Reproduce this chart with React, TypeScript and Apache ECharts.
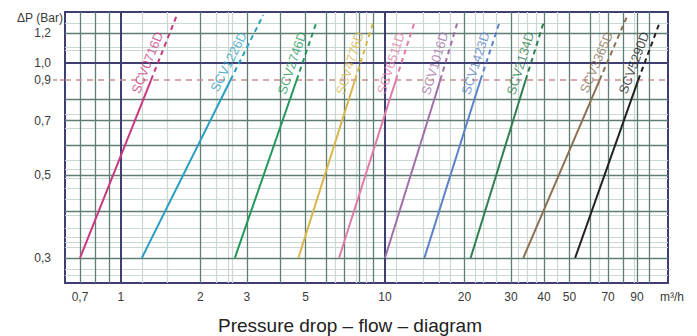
import React, { useEffect, useRef } from "react";
import * as echarts from "echarts";

// ---- data ----
const valveNames = ["SCV0716D", "SCV1226D", "SCV2746D", "SCV4776D", "SCV6511D", "SCV1016D", "SCV1423D", "SCV2134D", "SCV3365D", "SCV5290D"];
const valveColors = ["#c8387f", "#2b9fc2", "#23975a", "#d8b64a", "#e27aa9", "#a26fa8", "#5b82c9", "#2f7f52", "#8b7152", "#222222"];
const flowAtMin = [0.7, 1.2, 2.7, 4.7, 6.7, 10, 14.1, 21.1, 33.4, 52.5]; // m³/h at 0.3 bar
const flowAtRated = [1.3, 2.6, 4.63, 7.7, 11.0, 16.2, 23.0, 34.1, 65, 91]; // m³/h at 0.9 bar
const flowAtTop = [1.63, 3.46, 5.53, 9.07, 13.0, 18.9, 27.3, 40.1, 83, 110]; // end of dashed part
const dpTop = [1.345, 1.345, 1.3, 1.3, 1.3, 1.3, 1.3, 1.3, 1.345, 1.29];
const dpMin = 0.3;
const dpRated = 0.9;

const xTickValues = [0.7, 1, 2, 3, 5, 10, 20, 30, 40, 50, 70, 90];
const yTickValues = [0.3, 0.5, 0.7, 0.9, 1.0, 1.2];

const xMajorLines = [1, 10];
const xMinorLines = [0.7, 0.8, 0.9, 2, 3, 4, 5, 6, 7, 8, 9, 20, 30, 40, 50, 60, 70, 80, 90, 100];
const xFaintLines = [1.2, 1.5, 2.3, 2.55, 2.65, 6.5, 7.8, 8.5, 11, 14, 16, 17.6, 22, 23.5, 26.5, 32, 34.5, 37.5, 45, 65, 88];
const yMajorLines = [1.0];
const yMinorLines = [0.3, 0.4, 0.5, 0.6, 0.7, 0.8, 1.2];
const yFaintLines = [1.28, 1.1, 1.08, 0.73, 0.67, 0.55, 0.52, 0.49, 0.46, 0.43, 0.39, 0.36, 0.34, 0.33, 0.315, 0.28, 0.267];

const X_MIN = 0.614, X_MAX = 118, Y_MIN = 0.257, Y_MAX = 1.37;

const NAVY = "#3e3e70";
const DARK = "#5f7d73";
const FAINT = "#cbd8cf";
const FONT = (s: number) => `${s}px "Liberation Sans", Arial, sans-serif`;

const fmtX = (v: number) => (v < 1 ? String(v).replace(".", ",") : String(v));
const fmtY = (v: number) => v.toFixed(1).replace(".", ",");

function hexA(hex: string, a: number) {
  const n = parseInt(hex.slice(1), 16);
  return `rgba(${(n >> 16) & 255},${(n >> 8) & 255},${n & 255},${a})`;
}

export default function App() {
  const ref = useRef<HTMLDivElement>(null);
  useEffect(() => {
    const el = ref.current!;
    const chart = echarts.init(el, null, { renderer: "svg" });

    const mk = (vals: number[], axis: string, color: string, width: number) =>
      vals.map((v) => ({ [axis]: v, lineStyle: { color, width, type: "solid" } }));

    const series: any[] = [];
    series.push({
      type: "line",
      name: "gridlines",
      data: [[1, 1]],
      symbol: "none",
      lineStyle: { opacity: 0 },
      silent: true,
      z: 1,
      markLine: {
        z: 1,
        silent: true,
        symbol: ["none", "none"],
        label: { show: false },
        emphasis: { disabled: true },
        data: [
          ...mk(xFaintLines, "xAxis", FAINT, 1.2),
          ...mk(yFaintLines, "yAxis", FAINT, 1.2),
          ...mk(yMinorLines, "yAxis", DARK, 1.3),
          ...mk(xMinorLines, "xAxis", DARK, 1.3),
          ...mk(xMajorLines, "xAxis", NAVY, 2),
          ...mk(yMajorLines, "yAxis", NAVY, 2),
        ],
      },
    });
    series.push({
      type: "line",
      name: "rated",
      data: [[X_MIN, dpRated], [X_MAX, dpRated]],
      symbol: "none",
      silent: true,
      z: 3,
      lineStyle: { color: "#c98f8f", width: 1.5, type: [6, 5] },
    });
    valveNames.forEach((name, i) => {
      series.push({
        type: "line",
        name,
        data: [[flowAtMin[i], dpMin], [flowAtRated[i], dpRated]],
        symbol: "none",
        z: 6,
        lineStyle: { color: valveColors[i], width: 2 },
      });
      series.push({
        type: "line",
        name: name + "-ext",
        data: [[flowAtRated[i], dpRated], [flowAtTop[i], dpTop[i]]],
        symbol: "none",
        z: 6,
        lineStyle: { color: valveColors[i], width: 2, type: [5, 4] },
      });
    });

    chart.setOption({
      animation: false,
      backgroundColor: "#ffffff",
      grid: { left: 65, right: 29, top: 12, bottom: 53, show: true, borderColor: NAVY, borderWidth: 2, backgroundColor: "transparent" },
      xAxis: {
        type: "log", min: X_MIN, max: X_MAX, logBase: 10,
        axisLine: { show: false }, axisTick: { show: false }, axisLabel: { show: false }, splitLine: { show: false },
      },
      yAxis: {
        type: "log", min: Y_MIN, max: Y_MAX, logBase: 10,
        axisLine: { show: false }, axisTick: { show: false }, axisLabel: { show: false }, splitLine: { show: false },
      },
      series,
    });

    const toPx = (x: number, y: number) => chart.convertToPixel({ gridIndex: 0 }, [x, y]) as number[];
    const txt = (x: number, y: number, text: string, size: number, fill: string, align = "center", extra: any = {}) => ({
      type: "text",
      x, y,
      z: 10,
      ...extra,
      style: { text, font: FONT(size), fill, textAlign: align, align, textVerticalAlign: "middle", verticalAlign: "middle" },
    });

    const g: any[] = [];
    const bottomPx = toPx(1, Y_MIN)[1];
    const leftPx = toPx(X_MIN, 1)[0];
    xTickValues.forEach((v) => {
      const p = toPx(v, Y_MIN);
      g.push(txt(p[0], bottomPx + 14, fmtX(v), 12, "#3a3a3a"));
    });
    g.push(txt(672, bottomPx + 14, "m³/h", 12, "#3a3a3a"));
    yTickValues.forEach((v) => {
      const p = toPx(X_MIN, v);
      g.push(txt(leftPx - 14, p[1], fmtY(v), 12, "#3a3a3a", "right"));
    });
    g.push(txt(40, 18, "ΔP (Bar)", 12, "#3a3a3a"));
    const y09 = toPx(X_MIN, dpRated)[1];
    g.push({ type: "line", z: 3, shape: { x1: leftPx - 12, y1: y09, x2: leftPx, y2: y09 }, style: { stroke: "#c98f8f", lineWidth: 1.5, lineDash: [4, 3] } });
    g.push(txt(350, 325, "Pressure drop – flow – diagram", 19, "#222222"));

    valveNames.forEach((name, i) => {
      const p1 = toPx(flowAtRated[i], dpRated);
      const p2 = toPx(flowAtTop[i], dpTop[i]);
      const a = Math.atan2(p1[1] - p2[1], p2[0] - p1[0]);
      const yc = toPx(1, 0.98)[1];
      const t = (yc - p1[1]) / (p2[1] - p1[1]);
      const xc = p1[0] + t * (p2[0] - p1[0]);
      const off = 10;
      g.push(txt(xc - off * Math.sin(a), yc - off * Math.cos(a), name, 13, hexA(valveColors[i], 0.8), "center", { rotation: a }));
    });

    chart.setOption({ graphic: g });

    return () => chart.dispose();
  }, []);
  return <div ref={ref} style={{ width: 697, height: 336, position: "absolute", left: 0, top: 0, background: "#fff" }} />;
}
